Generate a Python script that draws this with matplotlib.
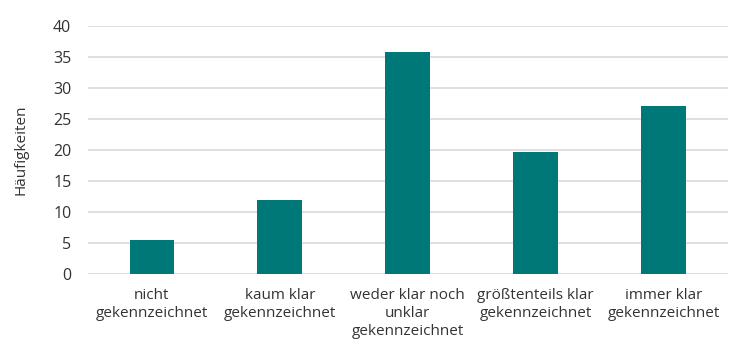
import matplotlib
matplotlib.use('Agg')
from matplotlib import pyplot as plt

categories = ['nicht\ngekennzeichnet', 'kaum klar\ngekennzeichnet',
              'weder klar noch\nunklar\ngekennzeichnet',
              'größtenteils klar\ngekennzeichnet', 'immer klar\ngekennzeichnet']
values = [5.4, 11.9, 35.8, 19.6, 27.1]
yticks = [0, 5, 10, 15, 20, 25, 30, 35, 40]

plt.rcParams['font.family'] = ['Open Sans', 'DejaVu Sans']

fig = plt.figure(figsize=(7.5, 3.59), dpi=100)
ax = fig.add_axes([0.1173, 0.2376, 0.8527, 0.69])

ax.bar(range(len(values)), values, width=0.35, color='#007878', zorder=3)

ax.set_xlim(-0.5, len(values) - 0.5)
ax.set_ylim(0, 40)
ax.set_yticks(yticks)
ax.set_xticks(range(len(categories)))
ax.set_xticklabels(categories, linespacing=1.3)
ax.yaxis.grid(True, color='#d9d9d9', linewidth=1.2, zorder=0)
ax.set_axisbelow(True)
for s in ax.spines.values():
    s.set_visible(False)
ax.tick_params(axis='y', length=0, pad=12, labelsize=11.5, labelcolor='#333333')
ax.tick_params(axis='x', length=0, pad=10, labelsize=11, labelcolor='#333333')
ax.set_ylabel('Häufigkeiten', fontsize=11, color='#333333', labelpad=18)

fig.savefig('out.png', dpi=100)
